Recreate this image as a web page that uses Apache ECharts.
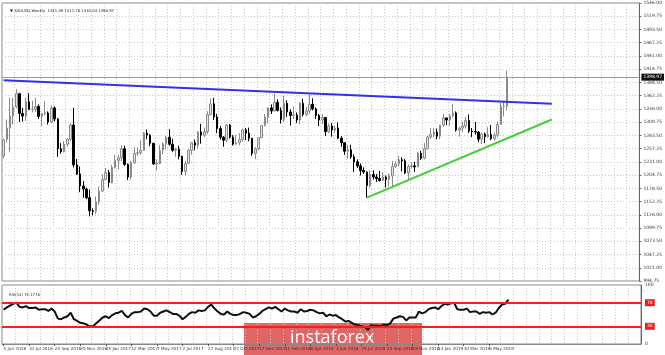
<!DOCTYPE html>
<html>
<head>
<meta charset="utf-8">
<script src="https://cdn.jsdelivr.net/npm/echarts@6/dist/echarts.min.js"></script>
<style>
  html, body { margin: 0; padding: 0; background: #fff; }
  #chart { width: 665px; height: 355px; }
</style>
</head>
<body>
<div id="chart"></div>
<script>
  // XAUUSD weekly, 5 Jun 2016 .. 16 Jun 2019
  const opens = [
    1243,1275,1298,1322,1340,1366,1327,1322,1350,1335,
    1335,1341,1321,1326,1328,1310,1338,1316,1257,1251,
    1266,1276,1304,1225,1207,1183,1177,1160,1134,1133,
    1152,1173,1196,1210,1190,1220,1234,1239,1257,1226,
    1201,1229,1248,1249,1254,1288,1284,1268,1227,1228,
    1254,1267,1280,1266,1254,1256,1242,1212,1228,1254,
    1269,1264,1290,1284,1291,1325,1346,1320,1297,1280,
    1274,1304,1280,1266,1269,1275,1294,1288,1278,1248,
    1257,1279,1303,1320,1338,1332,1349,1333,1315,1347,
    1330,1323,1324,1314,1347,1325,1332,1345,1336,1323,
    1314,1319,1291,1302,1294,1298,1278,1269,1252,1255,
    1241,1231,1223,1214,1211,1184,1206,1201,1198,1194,
    1201,1196,1203,1222,1227,1235,1233,1209,1222,1223,
    1221,1248,1238,1257,1280,1285,1290,1282,1304,1318,
    1314,1322,1328,1294,1298,1302,1313,1292,1291,1290,
    1276,1286,1281,1285,1277,1284,1305,1341,1341.09
  ];
  const highs = [
    1276,1315,1358,1358,1375,1368,1338,1358,1367,1352,
    1358,1345,1328,1352,1331,1343,1341,1318,1268,1272,
    1278,1308,1338,1237,1222,1193,1180,1176,1139,1162,
    1182,1207,1219,1215,1225,1245,1245,1264,1263,1228,
    1233,1260,1260,1274,1290,1295,1286,1268,1236,1264,
    1270,1282,1296,1277,1259,1263,1243,1233,1256,1270,
    1275,1292,1306,1299,1331,1357,1358,1326,1302,1282,
    1306,1306,1284,1284,1288,1297,1298,1299,1278,1260,
    1279,1303,1326,1339,1345,1366,1355,1339,1362,1353,
    1335,1341,1329,1350,1356,1340,1365,1357,1339,1326,
    1326,1319,1307,1308,1303,1309,1282,1270,1264,1265,
    1246,1236,1228,1220,1212,1214,1214,1207,1213,1211,
    1204,1208,1233,1233,1243,1240,1237,1226,1230,1231,
    1251,1253,1268,1283,1298,1298,1297,1304,1326,1319,
    1326,1346,1331,1300,1311,1320,1325,1298,1310,1292,
    1288,1289,1300,1304,1289,1311,1348,1350,1411.78
  ];
  const lows = [
    1238,1269,1250,1305,1337,1310,1311,1312,1334,1329,
    1330,1316,1302,1323,1305,1308,1311,1241,1247,1250,
    1261,1272,1220,1205,1171,1160,1157,1123,1125,1127,
    1146,1172,1196,1180,1188,1218,1216,1233,1223,1195,
    1196,1227,1243,1245,1253,1276,1262,1225,1214,1226,
    1246,1256,1263,1251,1241,1236,1205,1204,1228,1245,
    1254,1257,1267,1280,1286,1323,1314,1288,1275,1261,
    1270,1277,1263,1265,1264,1271,1274,1272,1243,1236,
    1254,1278,1301,1307,1326,1331,1331,1307,1310,1320,
    1303,1316,1308,1306,1321,1321,1326,1333,1316,1302,
    1306,1282,1288,1281,1289,1276,1261,1245,1238,1237,
    1211,1219,1204,1207,1160,1180,1196,1191,1192,1194,
    1180,1182,1183,1219,1222,1212,1207,1196,1218,1211,
    1221,1235,1236,1256,1277,1280,1276,1276,1300,1304,
    1302,1319,1291,1281,1290,1297,1288,1280,1285,1270,
    1266,1268,1279,1274,1273,1280,1305,1321,1333.04
  ];
  const closes = [
    1275,1298,1322,1340,1366,1327,1322,1350,1335,1335,
    1341,1321,1326,1328,1310,1338,1316,1257,1251,1266,
    1276,1304,1225,1207,1183,1177,1160,1134,1133,1152,
    1173,1196,1210,1190,1220,1234,1239,1257,1226,1201,
    1229,1248,1249,1254,1288,1284,1268,1227,1228,1254,
    1267,1280,1266,1254,1256,1242,1212,1228,1254,1269,
    1264,1290,1284,1291,1325,1346,1320,1297,1280,1274,
    1304,1280,1266,1269,1275,1294,1288,1278,1248,1257,
    1279,1303,1320,1338,1332,1349,1333,1315,1347,1330,
    1323,1324,1314,1347,1325,1332,1345,1336,1323,1314,
    1319,1291,1302,1294,1298,1278,1269,1252,1255,1241,
    1231,1223,1214,1211,1184,1206,1201,1198,1194,1201,
    1196,1203,1222,1227,1235,1233,1209,1222,1223,1221,
    1248,1238,1257,1280,1285,1290,1282,1304,1318,1314,
    1322,1328,1294,1298,1302,1313,1292,1291,1290,1276,
    1286,1281,1285,1277,1284,1305,1341,1341,1398.97
  ];
  const rsi = [
    58,62,65,68,70,63,62,64,61,61,
    62,58,59,59,56,60,55,43,42,45,
    47,53,42,39,36,35,33,30,30,35,
    40,45,47,44,49,52,53,56,49,45,
    51,54,54,55,60,59,55,48,48,53,
    55,57,54,51,51,48,42,46,51,54,
    53,57,56,57,63,67,60,55,51,50,
    55,51,49,49,51,54,53,51,45,47,
    51,56,59,62,60,63,59,55,60,57,
    55,55,53,59,55,56,58,57,54,52,
    53,47,50,48,49,45,42,38,39,36,
    33,32,30,29,24,32,31,31,30,33,
    32,35,43,45,47,46,40,45,45,45,
    55,52,54,59,61,62,59,64,68,67,
    69,70,59,58,58,60,54,55,55,51,
    54,53,54,50,53,61,67,68,75.18
  ];
  // trend lines: [bar index, price]
  const resistance = [[0, 1393], [172, 1346]];
  const support = [[114, 1160], [172, 1315]];
  const bidPrice = 1398.97;
  const rsiLevels = [70, 30];
  const headerText = '\u25BC XAUUSD,Weekly  1341.09 1411.78 1333.04 1398.97';
  const rsiText = 'RSI(14) 75.1778';

  const totalSlots = 200; // bars + empty space on the right
  const months = ['Jan','Feb','Mar','Apr','May','Jun','Jul','Aug','Sep','Oct','Nov','Dec'];
  const weeks = [];
  for (let i = 0; i < totalSlots; i++) {
    const d = new Date(Date.UTC(2016, 5, 5 + i * 7));
    weeks.push(d.getUTCDate() + ' ' + months[d.getUTCMonth()] + ' ' + d.getUTCFullYear());
  }
  const candles = opens.map(function (o, i) {
    return [o, closes[i], lows[i], highs[i]];
  });

  const font = 'DejaVu Sans';
  const gridDots = { color: '#c8c8c8', type: [1, 2], width: 1 };
  const vGrid = function (idx) { return idx % 4 === 0; };
  const showDate = function (idx) { return idx % 8 === 0 && idx < opens.length; };

  const chart = echarts.init(document.getElementById('chart'));
  chart.setOption({
    animation: false,
    backgroundColor: '#fff',
    textStyle: { fontFamily: font },
    title: [
      { text: headerText, left: 5, top: 4, textStyle: { fontSize: 3.8, fontWeight: 'normal', color: '#222', fontFamily: font } },
      { text: rsiText, left: 4, top: 288, textStyle: { fontSize: 3.8, fontWeight: 'normal', color: '#222', fontFamily: font } }
    ],
    grid: [
      { left: 2, top: 3, width: 639, height: 278, show: true, borderColor: '#888', borderWidth: 1 },
      { left: 2, top: 285, width: 639, height: 59, show: true, borderColor: '#888', borderWidth: 1 }
    ],
    xAxis: [
      {
        type: 'category', gridIndex: 0, data: weeks, boundaryGap: true,
        axisLine: { show: false }, axisTick: { show: false }, axisLabel: { show: false },
        splitLine: { show: true, interval: vGrid, lineStyle: gridDots }
      },
      {
        type: 'category', gridIndex: 1, data: weeks, boundaryGap: true,
        axisLine: { show: true, lineStyle: { color: '#888' } },
        axisTick: { show: true, length: 2, alignWithLabel: true, interval: showDate, lineStyle: { color: '#555' } },
        axisLabel: {
          fontSize: 4.2, color: '#333', margin: 3, align: 'left', interval: 0,
          showMinLabel: true, hideOverlap: false,
          formatter: function (v, idx) { return showDate(idx) ? v : ''; }
        },
        splitLine: { show: true, interval: vGrid, lineStyle: gridDots }
      }
    ],
    yAxis: [
      {
        type: 'value', gridIndex: 0, position: 'right',
        min: 994.75, max: 1546, interval: 26.25,
        axisLine: { show: true, lineStyle: { color: '#666' } },
        axisTick: { show: true, length: 2, lineStyle: { color: '#666' } },
        axisLabel: { fontSize: 4.5, color: '#333', margin: 4, formatter: function (v) { return v.toFixed(2); } },
        splitLine: { show: true, lineStyle: gridDots }
      },
      {
        type: 'value', gridIndex: 1, position: 'right',
        min: 0, max: 100, interval: 10,
        axisLine: { show: true, lineStyle: { color: '#666' } },
        axisTick: { show: false },
        splitLine: { show: false },
        axisLabel: {
          fontSize: 4.5, color: '#333', margin: 4,
          formatter: function (v) {
            if (v === 100 || v === 0) return String(v);
            if (rsiLevels.indexOf(v) >= 0) return '{r|' + v + '}';
            return '';
          },
          rich: { r: { backgroundColor: '#ee1c1c', color: '#fff', fontSize: 4.5, padding: [1, 2] } }
        }
      }
    ],
    series: [
      {
        type: 'candlestick', xAxisIndex: 0, yAxisIndex: 0, data: candles, barWidth: 2,
        itemStyle: { color: '#e4e4e4', color0: '#000', borderColor: '#8a8a8a', borderColor0: '#000', borderWidth: 1 },
        markLine: {
          silent: true, symbol: 'none',
          lineStyle: { color: '#999', type: 'solid', width: 1 },
          label: { show: true, position: 'end', formatter: bidPrice.toFixed(2), backgroundColor: '#111', color: '#fff', fontSize: 4.5, padding: [1, 2], distance: 2 },
          data: [{ yAxis: bidPrice }]
        }
      },
      {
        type: 'line', xAxisIndex: 0, yAxisIndex: 0, data: resistance, symbol: 'none',
        lineStyle: { color: '#3030ee', width: 2 }, z: 5
      },
      {
        type: 'line', xAxisIndex: 0, yAxisIndex: 0, data: support, symbol: 'none',
        lineStyle: { color: '#44cc3a', width: 2 }, z: 5
      },
      {
        type: 'line', xAxisIndex: 1, yAxisIndex: 1, data: rsi, symbol: 'none',
        lineStyle: { color: '#111', width: 2 },
        markLine: {
          silent: true, symbol: 'none',
          lineStyle: { color: '#ff1a1a', type: 'solid', width: 2 },
          label: { show: false },
          data: rsiLevels.map(function (v) { return { yAxis: v }; })
        }
      }
    ],
    graphic: [
      {
        type: 'group', left: 244, top: 323, z: 100,
        children: [
          { type: 'rect', shape: { x: 0, y: 0, width: 178, height: 33 }, style: { fill: '#e06666' } },
          { type: 'text', x: 46, y: 6, style: { text: 'instaforex', fill: '#fff', fontSize: 18, fontFamily: 'Open Sans' } }
        ]
      }
    ]
  });
</script>
</body>
</html>
